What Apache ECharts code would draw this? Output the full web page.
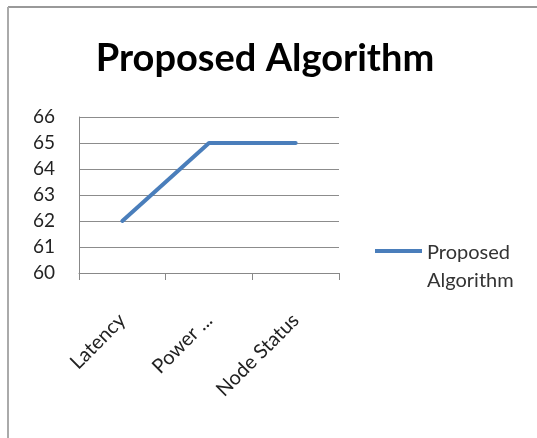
<!DOCTYPE html>
<html>
<head>
<meta charset="utf-8">
<script src="https://cdn.jsdelivr.net/npm/echarts@6/dist/echarts.min.js"></script>
<style>
html,body{margin:0;padding:0;background:#fff;}
#chart{width:537px;height:438px;}
</style>
</head>
<body>
<div id="chart"></div>
<script>
var titleText = 'Proposed Algorithm';
var categories = ['Latency', 'Power ...', 'Node Status'];
var seriesName = 'Proposed Algorithm';
var values = [62, 65, 65];
var yMin = 60, yMax = 66, yStep = 1;

var chart = echarts.init(document.getElementById('chart'), null, {renderer: 'canvas'});
var font = 'Lato, "Open Sans", sans-serif';
chart.setOption({
  animation: false,
  backgroundColor: '#fff',
  title: {
    text: titleText,
    left: 260, top: 35, textAlign: 'center',
    textStyle: {fontFamily: font, fontWeight: 'bold', fontSize: 38, color: '#000'}
  },
  grid: {left: 79, right: 198, top: 117, bottom: 165, containLabel: false},
  legend: {
    left: 370, top: 234, orient: 'vertical',
    icon: 'path://M0,0L47,0L47,4L0,4ZM0,36', itemWidth: 47, itemHeight: 36, itemGap: 0,
    formatter: function(n){ return 'Proposed\nAlgorithm'; },
    textStyle: {fontFamily: font, fontSize: 20, color: '#333', lineHeight: 28},
    data: [seriesName]
  },
  xAxis: {
    type: 'category', data: categories, boundaryGap: true,
    axisLine: {lineStyle: {color: '#888', width: 1}},
    axisTick: {show: true, alignWithLabel: false, length: 7, lineStyle: {color: '#888'}},
    axisLabel: {rotate: 45, margin: 44, fontFamily: font, fontSize: 20, color: '#222', interval: 0}
  },
  yAxis: {
    type: 'value', min: yMin, max: yMax, interval: yStep,
    axisLine: {show: true, lineStyle: {color: '#888'}},
    axisTick: {show: false},
    splitLine: {lineStyle: {color: '#8c8c8c', width: 1}},
    axisLabel: {fontFamily: font, fontSize: 19, color: '#222', margin: 24}
  },
  graphic: [
    {type: 'line', shape: {x1: 8, y1: 7, x2: 537, y2: 7}, style: {stroke: '#999', lineWidth: 2}},
    {type: 'line', shape: {x1: 8, y1: 7, x2: 8, y2: 438}, style: {stroke: '#aaa', lineWidth: 2}}
  ],
  series: [{
    name: seriesName, type: 'line', data: values,
    symbol: 'none', lineStyle: {color: '#4a7ebb', width: 4, cap: 'round'},
    itemStyle: {color: '#4a7ebb'}
  }]
});
</script>
</body>
</html>
